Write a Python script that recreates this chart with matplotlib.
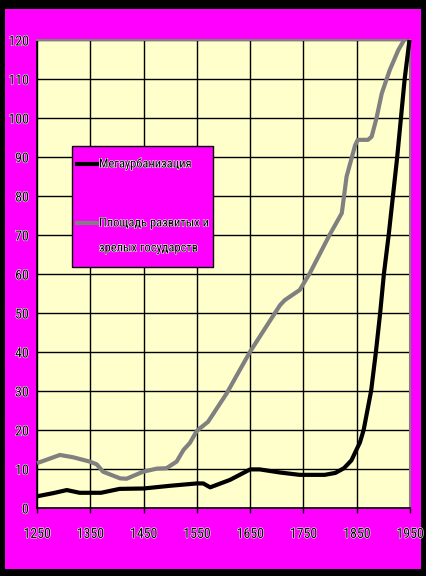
import numpy as np
import matplotlib
matplotlib.use("Agg")
import matplotlib.pyplot as plt
import matplotlib.patheffects as pe
from matplotlib.patches import Rectangle
from matplotlib.lines import Line2D

# --------------------------------------------
# DATA
# --------------------------------------------

urban_years = [1250, 1280, 1306, 1330, 1370, 1405, 1450, 1500, 1550, 1562, 1575, 1612,
               1650, 1668, 1706, 1743, 1790, 1810, 1826, 1840, 1848, 1856, 1863, 1877,
               1886, 1894, 1901, 1910, 1918, 1926, 1933, 1940, 1949]
urban_values = [3.0, 3.8, 4.6, 3.9, 3.9, 4.9, 5.0, 5.7, 6.3, 6.3, 5.3, 7.2,
                9.9, 9.9, 9.1, 8.5, 8.5, 9.0, 10.2, 12.2, 14.5, 16.8, 20, 30,
                40, 50, 60, 70, 80, 90, 100, 110, 120]

area_years = [1250, 1293, 1318, 1349, 1362, 1374, 1406, 1418, 1449, 1475, 1493, 1512,
              1525, 1537, 1550, 1571, 1606, 1650, 1706, 1715, 1743, 1762, 1799, 1822,
              1831, 1847, 1852, 1871, 1878, 1887, 1897, 1912, 1928, 1939]
area_values = [11.5, 13.6, 13.0, 11.9, 11.2, 9.3, 7.6, 7.5, 9.3, 10.1, 10.2, 11.9,
               14.9, 16.7, 19.8, 22.1, 29.4, 40.1, 52.0, 53.3, 55.9, 60.2, 70.0, 75.6,
               85.0, 93.0, 94.4, 94.4, 95.2, 99.9, 106.3, 112.3, 117.4, 120.0]

x_ticks = [1250, 1350, 1450, 1550, 1650, 1750, 1850, 1950]
y_ticks = list(range(0, 121, 10))
labels = ["Мегаурбанизация", "Площадь развитых и\nзрелых государств"]

# --------------------------------------------
# FIGURE
# --------------------------------------------

W, H = 427, 576
MAGENTA = "#FF00FF"
GRAY = "#808080"
FONT = ["Liberation Sans Narrow", "Roboto Condensed", "DejaVu Sans"]
halo = [pe.withStroke(linewidth=0.8, foreground="white")]


def px(x, y):
    # pixel coords (top-left origin) -> figure fraction
    return x / W, 1 - y / H


fig = plt.figure(figsize=(W / 100, H / 100), dpi=100, facecolor="black")
fig.patches.append(Rectangle(px(5, 569), 416 / W, 560 / H, transform=fig.transFigure,
                             facecolor=MAGENTA, edgecolor="none", zorder=-1))

x0, y0 = px(37, 508)
ax = fig.add_axes([x0, y0, 373 / W, 468 / H], zorder=1)
ax.set_facecolor("#FFFFCC")

ax.plot(area_years, area_values, color=GRAY, lw=3.0, clip_on=False, zorder=3,
        solid_capstyle="butt")
ax.plot(urban_years, urban_values, color="black", lw=3.0, clip_on=False, zorder=4,
        solid_capstyle="butt")

ax.set_xlim(1250, 1950)
ax.set_ylim(0, 120)
ax.set_xticks(x_ticks)
ax.set_yticks(y_ticks)
ax.grid(True, color="black", lw=1.0)
ax.set_axisbelow(True)

for s in ["left", "bottom"]:
    ax.spines[s].set_color("black")
    ax.spines[s].set_linewidth(1.2)
for s in ["top", "right"]:
    ax.spines[s].set_color(GRAY)
    ax.spines[s].set_linewidth(1.5)

ax.tick_params(axis="x", length=3.6, width=1.0, pad=10, direction="out")
ax.tick_params(axis="y", length=0, pad=6)
for lab in ax.get_xticklabels() + ax.get_yticklabels():
    lab.set_family(FONT)
    lab.set_stretch("condensed")
    lab.set_fontsize(10)
    lab.set_path_effects(halo)

# legend box drawn by hand to keep Excel's layout
lx, ly = px(72, 267)
fig.patches.append(Rectangle((lx, ly), 141 / W, 121 / H, transform=fig.transFigure,
                             facecolor=MAGENTA, edgecolor="black", lw=1.0, zorder=5))
for (yy, col) in [(164, "black"), (223, GRAY)]:
    a, b = px(77, yy)
    c, _ = px(97, yy)
    fig.add_artist(Line2D([a, c], [b, b], color=col, lw=3.0, transform=fig.transFigure,
                          zorder=6))
lines_txt = [(164, labels[0]), (223, labels[1].split("\n")[0]), (248, labels[1].split("\n")[1])]
for yy, s in lines_txt:
    t = fig.text(*px(99, yy), s, fontsize=9, family=FONT, stretch="condensed",
                 va="center", ha="left", zorder=7)
    t.set_path_effects(halo)

fig.savefig("out.png", dpi=100, facecolor="black")
